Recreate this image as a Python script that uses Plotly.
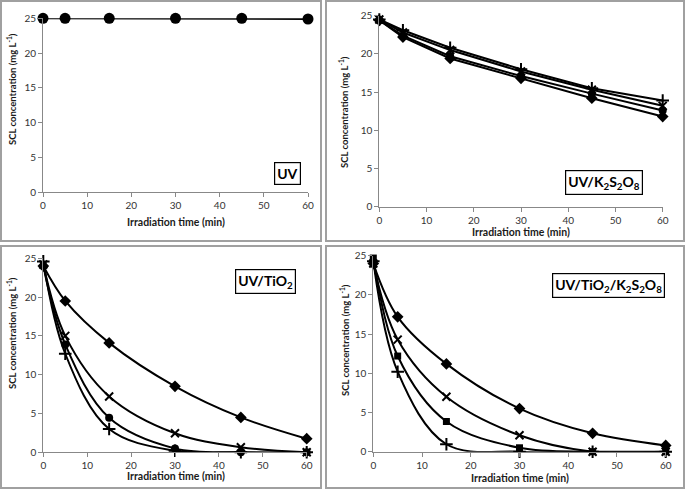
import plotly.graph_objects as go

W, H = 685, 489

time_min = [0, 5, 15, 30, 45, 60]

# Panel 1: UV
uv_circle = [25.0, 25.0, 25.0, 25.0, 25.0, 24.9]

# Panel 2: UV/K2S2O8
k_plus = [24.5, 23.1, 20.8, 18.0, 15.5, 13.9]
k_x = [24.5, 22.8, 20.5, 17.7, 15.3, 13.2]
k_circle = [24.4, 22.4, 19.7, 17.1, 14.8, 12.6]
k_diamond = [24.4, 22.2, 19.4, 16.8, 14.2, 11.8]

# Panel 3: UV/TiO2
t_diamond = [24.0, 19.5, 14.1, 8.5, 4.5, 1.75]
t_x = [24.2, 15.0, 7.2, 2.45, 0.65, 0.0]
t_circle = [24.0, 13.9, 4.45, 0.5, 0.0, 0.0]
t_plus = [24.6, 12.7, 3.0, 0.2, 0.0, 0.0]

# Panel 4: UV/TiO2/K2S2O8
tk_diamond = [24.0, 17.2, 11.2, 5.5, 2.35, 0.8]
tk_x = [24.0, 14.3, 7.0, 2.1, 0.0, 0.0]
tk_square = [24.7, 12.2, 3.85, 0.5, 0.0, 0.0]
tk_plus = [24.3, 10.2, 0.95, 0.0, 0.0, 0.0]

x_ticks = [0, 10, 20, 30, 40, 50, 60]
y_ticks = [0, 5, 10, 15, 20, 25]

FONT = "Lato, 'Open Sans', sans-serif"
AX = "#888888"

def px(x):
    return x / W

def py(y):
    return 1 - y / H

panels = [
    dict(xd=[px(43), px(308)], yd=[py(192.3), py(18.3)]),
    dict(xd=[px(379.3), px(662.7)], yd=[py(206.7), py(15.7)]),
    dict(xd=[px(43.3), px(306.7)], yd=[py(452.3), py(258.3)]),
    dict(xd=[px(373.3), px(665.7)], yd=[py(451.7), py(255.7)]),
]

fig = go.Figure()

sym = {
    "diamond": dict(symbol="diamond", size=9, color="black"),
    "circle": dict(symbol="circle", size=8, color="black"),
    "square": dict(symbol="square", size=7, color="black"),
    "x": dict(symbol="x-thin", size=8, line=dict(color="black", width=2)),
    "plus": dict(symbol="cross-thin", size=9, line=dict(color="black", width=2)),
}

def add(i, y, m, shape="linear", size=None):
    mk = dict(sym[m])
    if size:
        mk["size"] = size
    suffix = "" if i == 1 else str(i)
    fig.add_trace(go.Scatter(
        x=time_min, y=y, mode="lines+markers",
        line=dict(color="black", width=2, shape=shape, smoothing=1.0),
        marker=mk, cliponaxis=False, showlegend=False,
        xaxis="x" + suffix, yaxis="y" + suffix))

add(1, uv_circle, "circle", size=11)

for y, m in [(k_diamond, "diamond"), (k_circle, "circle"), (k_x, "x"), (k_plus, "plus")]:
    add(2, y, m)

for y, m in [(t_diamond, "diamond"), (t_x, "x"), (t_circle, "circle"), (t_plus, "plus")]:
    add(3, y, m, shape="spline")

for y, m in [(tk_diamond, "diamond"), (tk_x, "x"), (tk_square, "square"), (tk_plus, "plus")]:
    add(4, y, m, shape="spline")

layout = dict(
    template="none",
    width=W, height=H, margin=dict(l=0, r=0, t=0, b=0, autoexpand=False),
    paper_bgcolor="white", plot_bgcolor="white",
    font=dict(family=FONT, color="#333333", size=10),
)

for i, p in enumerate(panels, start=1):
    s = "" if i == 1 else str(i)
    layout["xaxis" + s] = dict(
        domain=p["xd"], range=[0, 60], tickvals=x_ticks, showgrid=False,
        zeroline=False, showline=True, linecolor=AX, linewidth=1,
        ticks="outside", ticklen=4, tickcolor=AX, anchor="y" + s,
        automargin=False,
        tickfont=dict(size=10, family=FONT, color="#333"), fixedrange=True)
    layout["yaxis" + s] = dict(
        domain=p["yd"], range=[0, 25], tickvals=y_ticks, showgrid=False,
        zeroline=False, showline=True, linecolor=AX, linewidth=1,
        ticks="outside", ticklen=4, tickcolor=AX, anchor="x" + s,
        automargin=False,
        tickfont=dict(size=10, family=FONT, color="#333"), fixedrange=True)

fig.update_layout(**layout)

# Panel borders
borders = [(1, 1, 321, 241), (326, 1, 684, 241), (1, 246, 321, 488), (326, 246, 684, 488)]
for x0, y0, x1, y1 in borders:
    fig.add_shape(type="rect", xref="paper", yref="paper",
                  x0=px(x0), x1=px(x1), y0=py(y1), y1=py(y0),
                  line=dict(color="#a0a0a0", width=2), fillcolor="rgba(0,0,0,0)")

# Axis titles
ytitle = "SCL concentration (mg L<sup>-1</sup>)"
xtitle = "Irradiation time (min)"
for (xc, yc) in [(11, 89), (344, 112), (11, 333), (344, 340)]:
    fig.add_annotation(text="<b>" + ytitle + "</b>", x=px(xc), y=py(yc),
                       xref="paper", yref="paper", textangle=-90, showarrow=False,
                       xanchor="center", yanchor="middle",
                       font=dict(size=9.5, family=FONT, color="#1a1a1a"))
for (xc, yc) in [(176, 222), (521, 232), (176, 476), (520, 478)]:
    fig.add_annotation(text="<b>" + xtitle + "</b>", x=px(xc), y=py(yc),
                       xref="paper", yref="paper", showarrow=False,
                       xanchor="center", yanchor="middle",
                       font=dict(size=10.5, family=FONT, color="#1a1a1a"))

# Panel labels
labels = [
    ("UV", 287, 174),
    ("UV/K<sub>2</sub>S<sub>2</sub>O<sub>8</sub>", 604, 182),
    ("UV/TiO<sub>2</sub>", 265, 281),
    ("UV/TiO<sub>2</sub>/K<sub>2</sub>S<sub>2</sub>O<sub>8</sub>", 608, 285),
]
for t, xc, yc in labels:
    fig.add_annotation(text="<b>" + t + "</b>", x=px(xc), y=py(yc),
                       xref="paper", yref="paper", showarrow=False,
                       xanchor="center", yanchor="middle",
                       bordercolor="black", borderwidth=1.2, borderpad=2,
                       bgcolor="white",
                       font=dict(size=14, family=FONT, color="black"))

fig.write_html("out.html", config={"displayModeBar": False},
               post_script="document.body.style.margin='0';")
